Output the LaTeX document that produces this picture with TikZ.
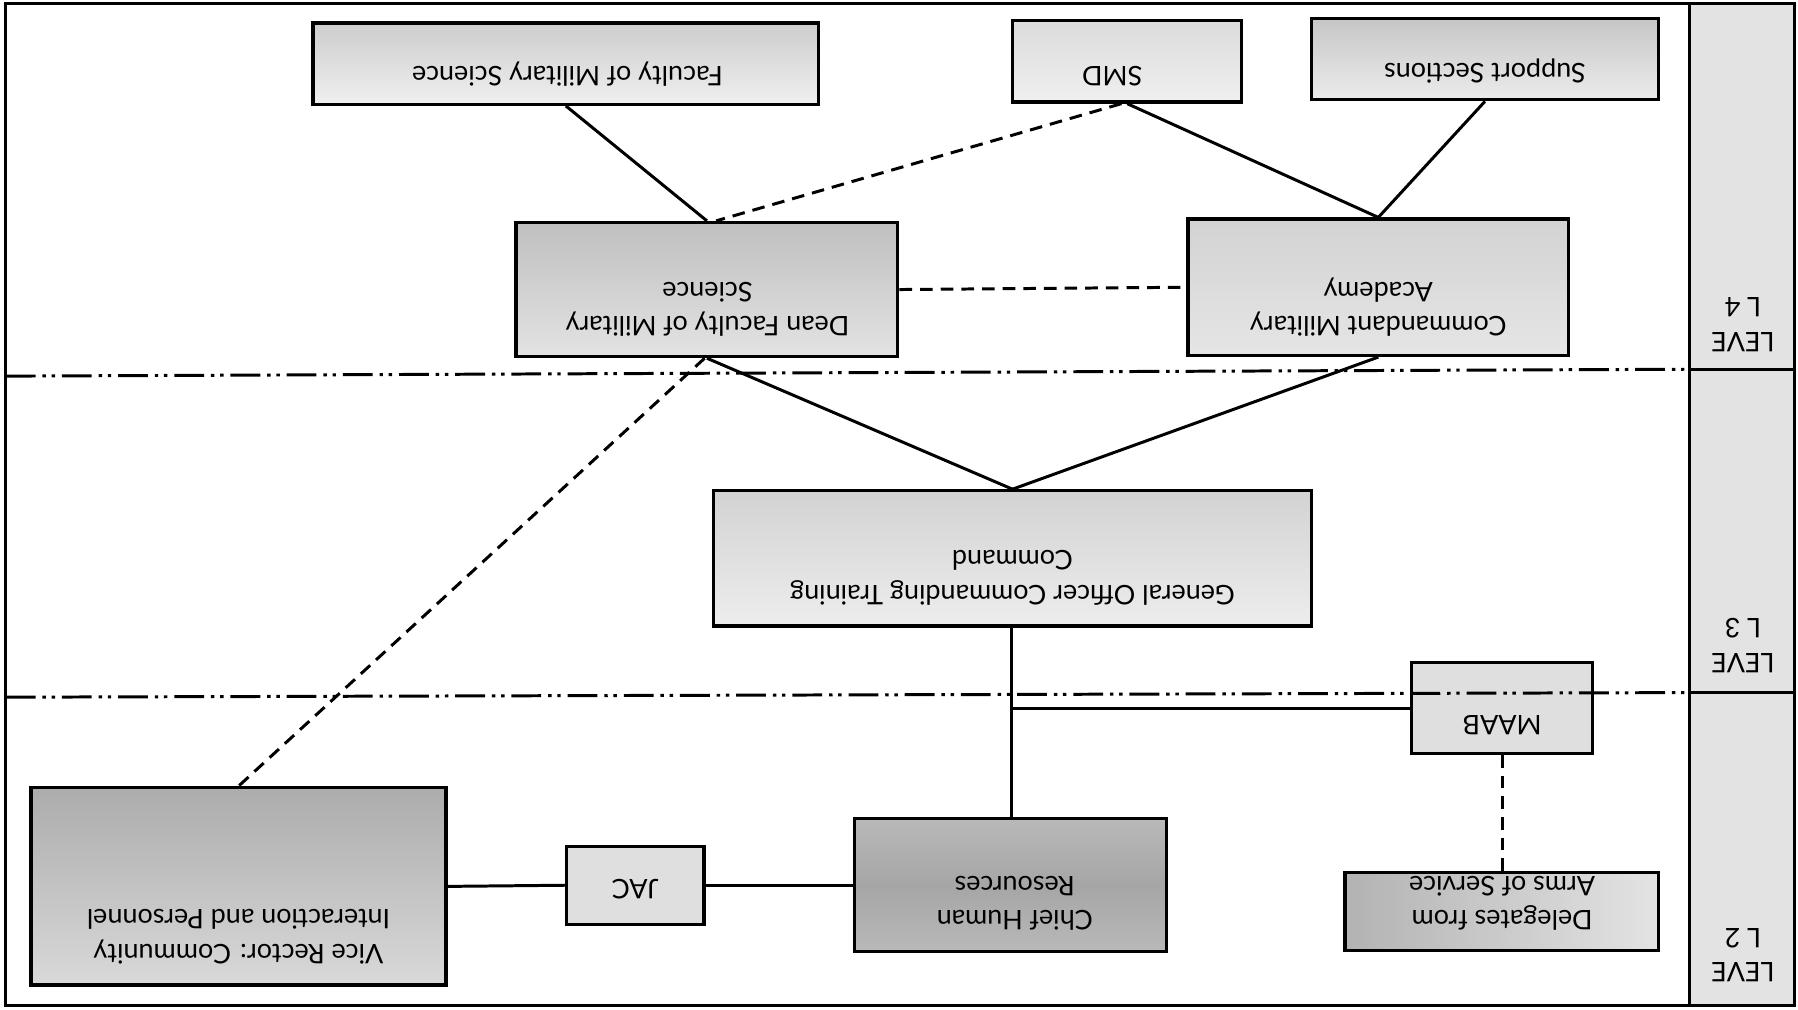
\documentclass[tikz,border=0pt]{standalone}
\usepackage{fontspec}
\setmainfont{Lato}
\usetikzlibrary{calc}
\begin{document}
\begin{tikzpicture}[x=1pt,y=-1pt,
  box/.style={draw, line width=2.8pt, inner sep=0pt},
  lbl/.style={rotate=180, align=center, inner sep=0pt, font=\fontsize{23.5}{30}\selectfont},
  conn/.style={line width=2.6pt},
  dsh/.style={line width=2.6pt, dash pattern=on 11pt off 7pt},
  lvl/.style={line width=2.6pt, dash pattern=on 26pt off 6pt on 3pt off 5pt on 3pt off 6pt}]
\useasboundingbox (0,0) rectangle (1568,880);
% level column
\fill[gray!22] (1473,3) rectangle (1565,877);
\draw[line width=2.6pt] (5,3) rectangle (1565,877);
\draw[line width=2.6pt] (1473,3) -- (1473,877);
% boxes
\node[box, top color=gray!40, bottom color=gray!12, minimum width=441, minimum height=71] (fms) at (493.5,55.5) {};
\node[box, top color=gray!28, bottom color=gray!12, minimum width=200, minimum height=71] (smd) at (983,53.5) {};
\node[box, top color=gray!45, bottom color=gray!15, minimum width=302, minimum height=71] (sup) at (1295,51.5) {};
\node[box, top color=gray!50, bottom color=gray!22, minimum width=333, minimum height=117] (dean) at (616.5,252.5) {};
\node[box, top color=gray!35, bottom color=gray!20, minimum width=332, minimum height=119] (cmd) at (1202,250.5) {};
\node[box, top color=gray!35, bottom color=gray!14, minimum width=522, minimum height=118] (goc) at (883,487) {};
\node[box, fill=gray!25, minimum width=158, minimum height=79] (maab) at (1310,617.5) {};
\node[box, left color=gray!60, right color=gray!22, minimum width=273, minimum height=68] (del) at (1309.5,795) {};
\node[box, top color=gray!55, bottom color=gray!55, middle color=gray!70, minimum width=272, minimum height=116] (chr) at (881,772) {};
\node[box, fill=gray!25, minimum width=120, minimum height=68] (jac) at (554,772) {};
\node[box, top color=gray!65, bottom color=gray!30, minimum width=362, minimum height=172] (vr) at (208,773) {};
% labels
\node[lbl] (tfms) at (495,65) {Faculty of Military Science};
\node[lbl] (tsmd) at (970,66) {SMD};
\node[lbl] (tsup) at (1295,62) {Support Sections};
\node[lbl] (tdean) at (617,270) {Dean Faculty of Military\\Science};
\node[lbl] (tcmd) at (1202,268) {Commandant Military\\Academy};
\node[lbl] (tgoc) at (883,504) {General Officer Commanding Training\\Command};
\node[lbl] (tmaab) at (1310,632) {MAAB};
\node[lbl] (tdel) at (1310,788) {Delegates from\\Arms of Service};
\node[lbl] (tchr) at (885,788) {Chief Human\\Resources};
\node[lbl] (tjac) at (554,775) {JAC};
\node[lbl] (tvr) at (208,817) {Vice Rector: Community\\Interaction and Personnel};
\node[lbl] (l4) at (1520,283) {LEVE\\L 4};
\node[lbl] (l3) at (1520,563) {LEVE\\L 3};
\node[lbl] (l2) at (1520,833) {LEVE\\L 2};
% connectors
\draw[conn] (fms.south) -- (dean.north);
\draw[conn] (smd.south) -- (cmd.north);
\draw[conn] (sup.south) -- (cmd.north);
\draw[dsh] ($(smd.south)+(-5,0)$) -- ($(dean.north)+(8,0)$);
\draw[dsh] (dean.east) -- (cmd.west);
\draw[conn] (dean.south) -- (goc.north);
\draw[conn] (cmd.south) -- (goc.north);
\draw[dsh] ($(dean.south)+(-2,0)$) -- (vr.north);
\draw[conn] ($(goc.south)+(-1,0)$) -- ($(goc.south |- chr.north)+(-1,0)$);
\draw[conn] ($(goc.south |- maab.west)+(-1,0)$) -- (maab.west);
\draw[dsh] (maab.south) -- (maab.south |- del.north);
\draw[conn] (chr.west) -- (jac.east);
\draw[conn] (jac.west) -- (vr.east);
% level dividers
\draw[lvl] (5,328) -- (1473,322);
\draw[lvl] (5,608) -- (1473,604);
\draw[line width=2.6pt] (1473,322) -- (1565,322);
\draw[line width=2.6pt] (1473,604) -- (1565,604);
\end{tikzpicture}
\end{document}
